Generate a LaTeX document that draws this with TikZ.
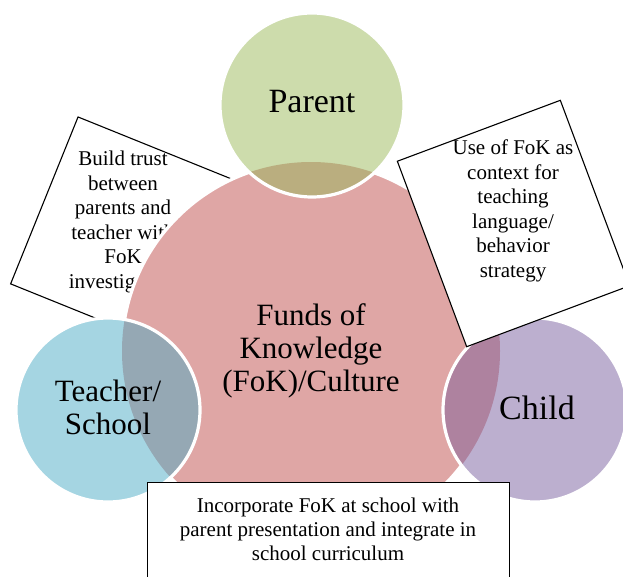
\documentclass[tikz,border=0pt]{standalone}
\usepackage{fontspec}
\setmainfont{Liberation Serif}
\usepackage{xcolor}
\definecolor{mpink}{HTML}{DFA6A5}
\definecolor{mgreen}{HTML}{CDDCAC}
\definecolor{mblue}{HTML}{A5D5E2}
\definecolor{mpurple}{HTML}{BCAFCF}
\definecolor{mtan}{HTML}{BAAE7F}
\definecolor{mslate}{HTML}{95A8B4}
\definecolor{mmauve}{HTML}{AE829F}
\usepackage{tikz}

\tikzset{
  ring/.style={draw=white, line width=3.2pt},
  notebox/.style={draw=black, line width=1.1pt, fill=white, inner sep=0pt},
  notetext/.style={align=center, inner sep=0pt, font=\fontsize{21}{24.5}\selectfont},
  bigtext/.style={align=center, inner sep=0pt, font=\fontsize{34}{36}\selectfont},
  midtext/.style={align=center, inner sep=0pt, font=\fontsize{31}{33}\selectfont},
}

\begin{document}
\begin{tikzpicture}[x=1pt,y=-1pt]
            % Define parameters
            \def\R{189}   % radius of the centre circle
            \def\r{92}    % radius of the outer circles

            \useasboundingbox (0,0) rectangle (623,576);

            % Centres of the circles
            \coordinate (fokc) at (311,351);
            \coordinate (parentc) at (312,105);
            \coordinate (teacherc) at (108,410);
            \coordinate (childc) at (535,410);

            % Left note sits behind the circles
            \node[notebox, rotate=-22, minimum width=174pt, minimum height=180pt] (trustbox) at (125,233) {};
            \node[notetext] (trust) at (123,222) {Build trust\\between\\parents and\\teacher with\\FoK\\investigation};

            % Draw the centre circle
            \fill[mpink] (fokc) circle (\R);
            \draw[ring] (fokc) circle (\R);

            % Draw the outer circles and their overlap with the centre
            \foreach \c/\col/\mix in {parentc/mgreen/mtan, teacherc/mblue/mslate, childc/mpurple/mmauve} {
              \fill[\col] (\c) circle (\r);
              \begin{scope}
                \clip (fokc) circle (\R);
                \fill[\mix] (\c) circle (\r);
              \end{scope}
              \draw[ring] (\c) circle (\r);
            }

            % Circle labels
            \node[bigtext] (parent) at (312,102) {Parent};
            \node[midtext] (fok) at (311,351) {Funds of\\Knowledge\\(FoK)/Culture};
            \node[midtext] (teacher) at (108,407) {Teacher/\\School};
            \node[bigtext] (child) at (537,408) {Child};

            % Right note
            \node[notebox, rotate=20.5, minimum width=174pt, minimum height=198pt] (usebox) at (513.5,223.5) {};
            \node[notetext] (use) at (513,211) {Use of FoK as\\context for\\teaching\\language/\\behavior\\strategy};

            % Bottom note
            \node[notebox, anchor=north west, minimum width=362pt, minimum height=130pt] (incbox) at (147,482) {};
            \node[notetext, font=\fontsize{21}{24}\selectfont] (inc) at (328,529) {Incorporate FoK at school with\\parent presentation and integrate in\\school curriculum};
          \end{tikzpicture}
\end{document}
